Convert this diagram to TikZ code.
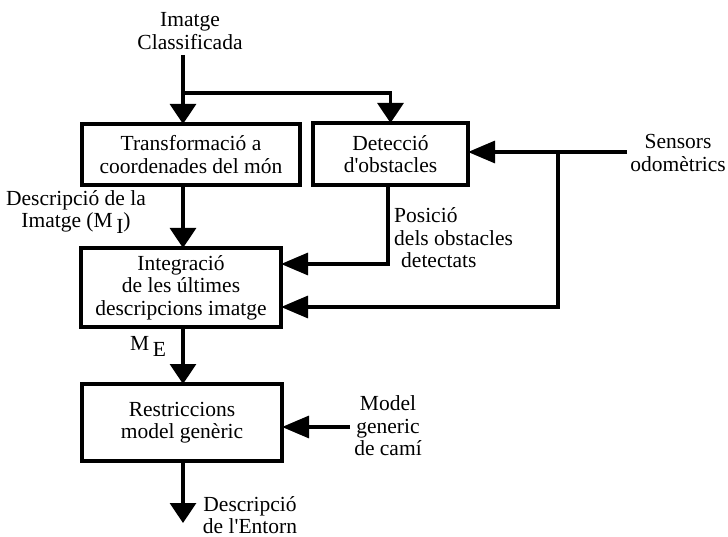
\documentclass[tikz,border=0pt]{standalone}
\usepackage{fontspec}
\setmainfont{Liberation Serif}
\usetikzlibrary{arrows.meta,calc}
\begin{document}
\begin{tikzpicture}[x=1pt,y=-1pt,
  every node/.style={font=\fontsize{21.5}{22.5}\selectfont},
  box/.style={draw,line width=3.2pt,align=center,outer sep=0pt,inner sep=0pt},
  lbl/.style={align=center,inner sep=0pt},
  wire/.style={line width=3.2pt},
  varr/.style={wire,-{Triangle[length=20pt,width=26pt]}},
  harr/.style={wire,-{Triangle[length=27pt,width=22pt]}}]
\useasboundingbox (0,0) rectangle (728,537);
% boxes
\node[box,minimum width=218pt,minimum height=61pt] (b1) at (191,154.5) {Transformació a\\coordenades del món};
\node[box,minimum width=155pt,minimum height=62pt] (b2) at (390.5,154) {Detecció\\d\textquotesingle obstacles};
\node[box,minimum width=200pt,minimum height=79pt] (b3) at (181,287.5) {Integració\\de les últimes\\descripcions imatge};
\node[box,minimum width=200pt,minimum height=77pt] (b4) at (182,422.5) {Restriccions\\model genèric};
% labels
\node[lbl] (img) at (190,31) {Imatge\\Classificada};
\node[lbl] (dimg) at (76,212) {Descripció de la\\Imatge (M\,\raisebox{-6pt}{I})};
\node[lbl,align=left,anchor=west] (pos) at (394,238) {Posició\\dels obstacles\\\hspace{7pt}detectats};
\node[lbl,anchor=east] (sens) at (726,153) {Sensors\\odomètrics};
\node[lbl] (me) at (148,346) {M\,\raisebox{-6pt}{E}};
\node[lbl] (model) at (388,426) {Model\\generic\\de camí};
\node[lbl] (ent) at (250,515) {Descripció\\de l\textquotesingle Entorn};
% coordinates
\coordinate (cx) at (183,0);
\coordinate (in) at (183,55);
\coordinate (br) at (183,93);
\coordinate (sin) at (627,152);
\coordinate (j1) at (558,152);
\coordinate (j2) at (558,307);
\coordinate (p) at (388,264);
\coordinate (mg) at (350,427);
\coordinate (out) at (183,523);
% connectors
\draw[varr] (in) -- (b1.north -| in);
\draw[varr] (br) -| (b2.north);
\draw[varr] (b1.south -| cx) -- (b3.north -| cx);
\draw[harr] (sin) -- (b2.east |- sin);
\draw[harr] (j1) -- (j2) -- (b3.east |- j2);
\draw[harr] (b2.south -| p) |- (b3.east |- p);
\draw[varr] (b3.south -| cx) -- (b4.north -| cx);
\draw[harr] (mg) -- (b4.east |- mg);
\draw[varr] (b4.south -| cx) -- (out);
\end{tikzpicture}
\end{document}
